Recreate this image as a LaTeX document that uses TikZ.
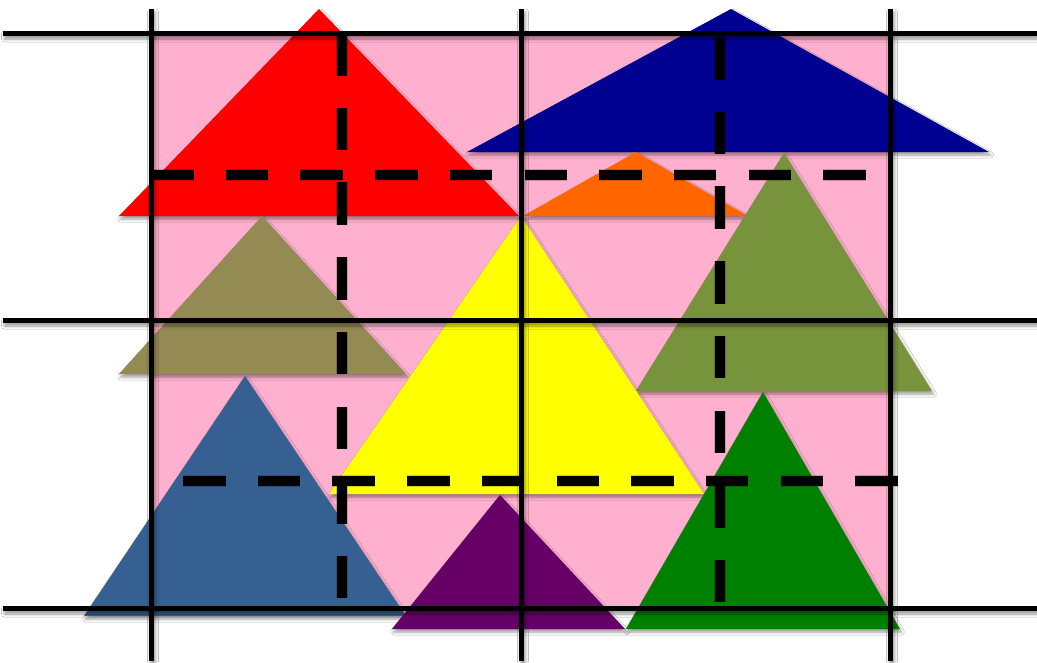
\documentclass[tikz,border=0pt]{standalone}
\usetikzlibrary{shadows.blur}
\definecolor{bgpink}{RGB}{255,176,206}
\definecolor{tred}{RGB}{255,0,0}
\definecolor{tnavy}{RGB}{0,0,145}
\definecolor{torange}{RGB}{255,102,0}
\definecolor{tolive}{RGB}{119,147,60}
\definecolor{tkhaki}{RGB}{148,138,84}
\definecolor{tyellow}{RGB}{255,255,0}
\definecolor{tsteel}{RGB}{54,96,146}
\definecolor{tpurple}{RGB}{102,0,102}
\definecolor{tgreen}{RGB}{0,128,0}
\begin{document}
\begin{tikzpicture}[x=1pt,y=-1pt,
  shad/.style={blur shadow={shadow xshift=1.5pt,shadow yshift=-3pt,shadow blur radius=3pt,shadow opacity=40}},
  tri/.style={fill=#1,draw=none,shad},
  rule/.style={fill=black,draw=none,shad},
  dashrule/.style={draw=black,line width=10.5pt,dash pattern=on 42.5pt off 32.2pt,line cap=butt},
  dashshadow/.style={draw=black,opacity=0.18,line width=12pt,dash pattern=on 42.5pt off 32.2pt,line cap=butt}]
\useasboundingbox (0,0) rectangle (1037,662);
\fill[white] (0,0) rectangle (1037,662);
% background
\fill[bgpink] (151,33) rectangle (890,608);
% triangles
\path[tri=tred]    (319,9)   -- (519,216) -- (119,216) -- cycle;
\path[tri=tnavy]   (731,9)   -- (989,152) -- (467,152) -- cycle;
\path[tri=torange] (636,152) -- (748,216) -- (523,216) -- cycle;
\path[tri=tolive]  (784,153) -- (932,391) -- (636,391) -- cycle;
\path[tri=tkhaki]  (262,216) -- (406,374) -- (119,374) -- cycle;
\path[tri=tyellow] (521,216) -- (704,494) -- (329,494) -- cycle;
\path[tri=tsteel]  (245,376) -- (406,616) -- (84,616)  -- cycle;
\path[tri=tpurple] (500,495) -- (625,629) -- (392,629) -- cycle;
\path[tri=tgreen]  (763,392) -- (900,629) -- (626,629) -- cycle;
% dashed guides (shadow then line)
\coordinate (h1a) at (151,175); \coordinate (h1b) at (866,175);
\coordinate (h2a) at (183,481); \coordinate (h2b) at (898,481);
\coordinate (v1a) at (342,33);  \coordinate (v1b) at (342,598);
\coordinate (v2a) at (720,37);  \coordinate (v2b) at (720,602);
\begin{scope}[shift={(1.5,3)}]
\draw[dashshadow] (h1a) -- (h1b);
\draw[dashshadow] (h2a) -- (h2b);
\draw[dashshadow] (v1a) -- (v1b);
\draw[dashshadow] (v2a) -- (v2b);
\end{scope}
\draw[dashrule] (h1a) -- (h1b);
\draw[dashrule] (h2a) -- (h2b);
\draw[dashrule] (v1a) -- (v1b);
\draw[dashrule] (v2a) -- (v2b);
% solid grid lines
\path[rule] (3,31) rectangle (1037,36);
\path[rule] (3,318) rectangle (1037,323);
\path[rule] (3,606) rectangle (1037,611);
\path[rule] (149,9) rectangle (154,661);
\path[rule] (519,9) rectangle (524,661);
\path[rule] (888,9) rectangle (893,661);
\end{tikzpicture}
\end{document}
